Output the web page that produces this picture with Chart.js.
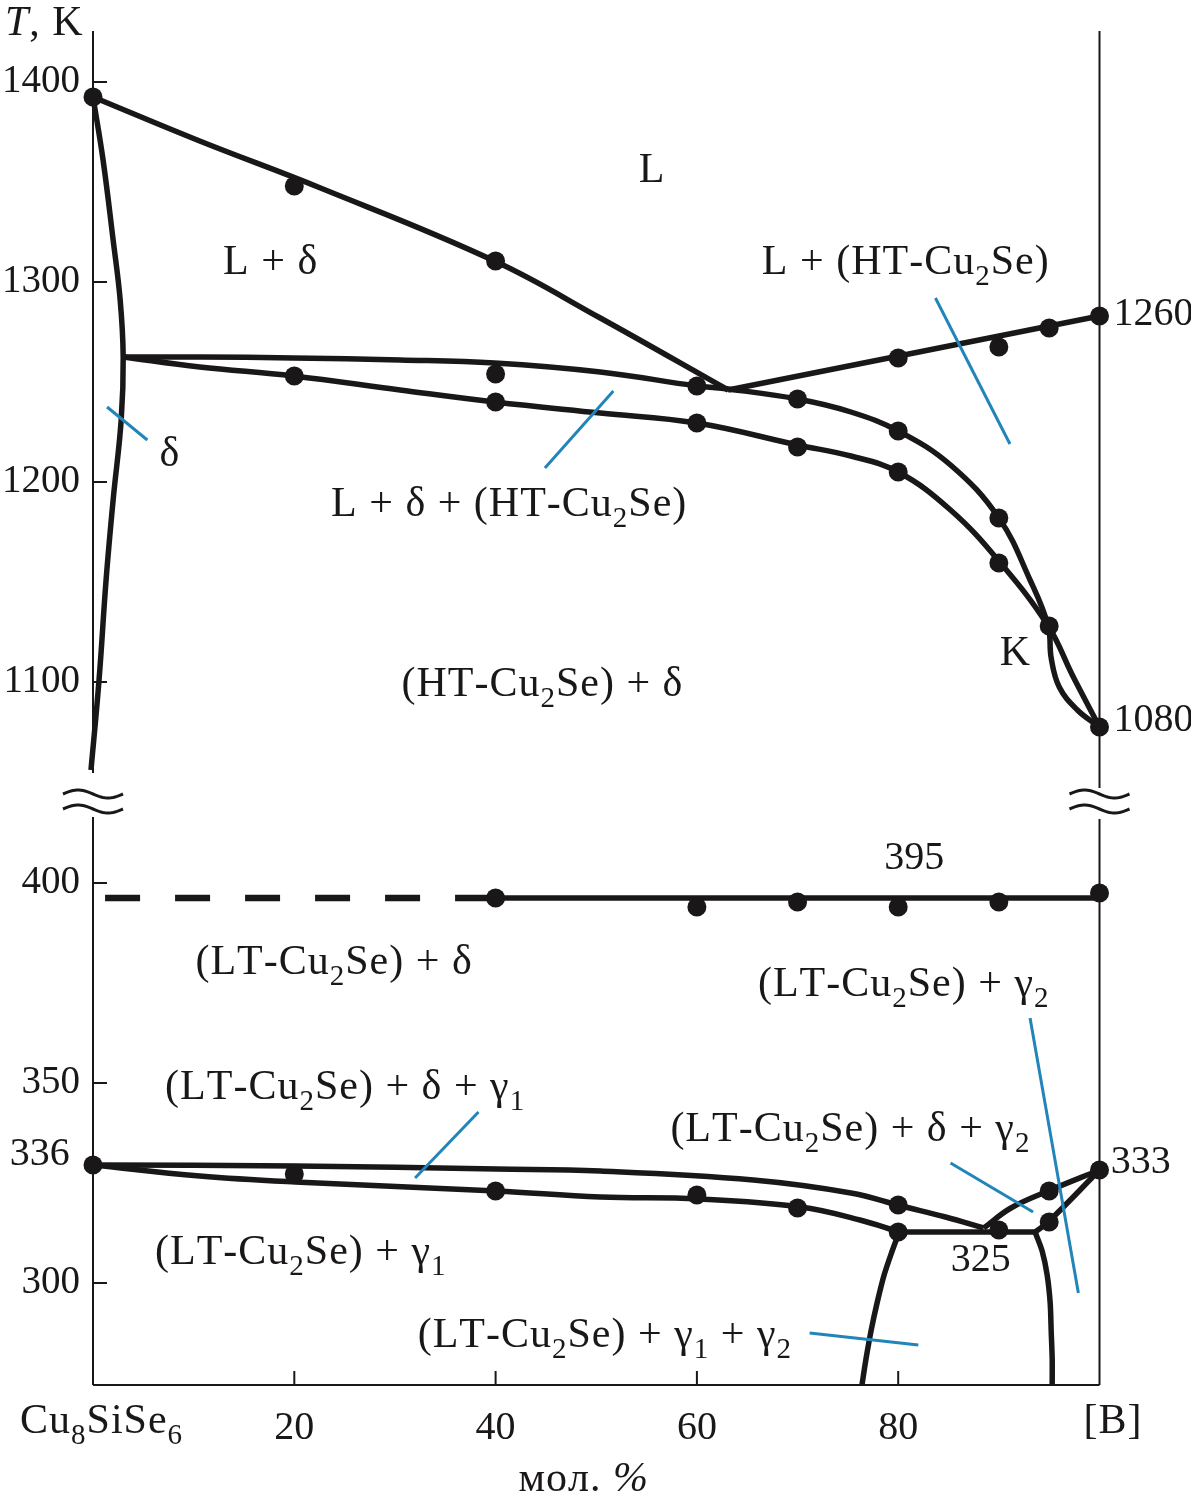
<!DOCTYPE html>
<html>
<head>
<meta charset="utf-8">
<script src="https://cdn.jsdelivr.net/npm/chart.js@4.4.0/dist/chart.umd.min.js"></script>
<style>
  html, body { margin: 0; padding: 0; background: #fff; }
</style>
</head>
<body>
<canvas id="chart" width="1191" height="1506"></canvas>
<script>
const FONT = '"Liberation Serif", "Times New Roman", serif';
const INK = "#1a1718";
const BLUE = "#2285ba";
const SIZE = 39;

// оси
const xTicks = [20, 40, 60, 80];
const topTicks = [1100, 1200, 1300, 1400];
const lowTicks = [300, 350, 400];
const topRange = [1041, 1425.5];
const lowRange = [274.5, 420.75];

// верхняя часть диаграммы: [мол. %, T]
const deltaBoundary = [[0, 1392.5], [1.0, 1361], [2.0, 1321], [2.7, 1291], [3.0, 1262.5], [2.8, 1231], [2.0, 1191], [1.3, 1151], [0.6, 1101], [-0.2, 1056]];
const liquidusLeft = [[0, 1392.5], [10.6, 1370.5], [22.6, 1347], [39.9, 1310.5], [50.4, 1282], [63.1, 1246]];
const liquidusRight = [[63.1, 1246], [100, 1283]];
const upperCurve = [[3.0, 1262.5], [10.6, 1262.5], [19.9, 1262], [30.5, 1261], [39.9, 1259.5], [50.4, 1255], [60.0, 1248], [63.1, 1246.5], [70.0, 1241.5], [75.3, 1235], [80.0, 1225.5], [85.2, 1208.5], [90.0, 1182], [93.1, 1151], [94.9, 1128], [95.2, 1112], [96.0, 1097.5], [97.8, 1086], [100, 1077.5]];
const lowerCurve = [[3.0, 1262.5], [10.6, 1257.5], [19.9, 1253], [30.5, 1246], [39.9, 1240], [50.4, 1234.5], [60.0, 1229.5], [70.0, 1218.5], [75.3, 1213], [80.0, 1205], [85.2, 1186], [90.0, 1160.5], [94.9, 1128], [97.3, 1103.5], [100, 1077.5]];
const topPoints = [[0, 1392.5], [20, 1348], [40, 1310.5], [20, 1253], [40, 1254], [40, 1240], [60, 1248], [60, 1229.5], [70, 1241.5], [70, 1217.5], [80, 1262], [80, 1225.5], [80, 1205], [90, 1267.5], [90, 1182], [90, 1159.5], [95, 1277], [95, 1128], [100, 1283], [100, 1077.5]];

// нижняя часть диаграммы
const line395Dashed = [[1.2, 396.25], [40, 396.25]];
const line395 = [[40, 396.25], [100, 396.25]];
const points395 = [[40, 396.25], [60, 394], [70, 395.25], [80, 394], [90, 395.25], [100, 397.5]];
const gamma1Upper = [[0, 329.5], [20.1, 329.25], [40.1, 328.5], [50.4, 328], [65.6, 325.75], [75.3, 322.5], [80.3, 319.25], [84.7, 316.5], [88.5, 313.75]];
const gamma1Lower = [[0, 329.5], [10.6, 326.75], [20.1, 325.25], [40.1, 323], [50.4, 321.5], [60.2, 321], [70.3, 319], [76.2, 315.75], [80.1, 312.75]];
const line325 = [[80.1, 312.75], [93.6, 312.75]];
const gamma2Upper = [[88.5, 313.75], [91.2, 318.75], [94.9, 323], [100, 328.25]];
const gamma2Lower = [[93.6, 312.75], [94.9, 315.25], [100, 328.25]];
const solvusLeft = [[80.1, 312.75], [79.4, 308], [78.6, 302], [77.9, 295], [77.3, 288], [76.8, 281], [76.4, 274.5]];
const solvusRight = [[93.6, 312.75], [94.3, 308], [94.8, 302], [95.1, 295], [95.2, 288], [95.3, 281], [95.3, 274.5]];
const lowPoints = [[0, 329.5], [20, 327.25], [40, 323], [60, 322], [70, 318.75], [80, 319.5], [80, 312.75], [90, 313.25], [95, 323], [95, 315.25], [100, 328.25]];

// выноски (синие линии)
const leadersTop = [[[1.4, 1237.5], [5.4, 1221]], [[44.9, 1207], [51.7, 1245.5]], [[83.7, 1292], [91.1, 1219]]];
const leadersLow = [[[32.0, 326.25], [38.3, 342.75]], [[93.1, 366.25], [97.9, 297.5]], [[85.2, 330], [93.4, 317.75]], [[71.2, 287.5], [82.0, 284.5]]];

// подписи областей: текст, x, T (центр). "_2" = нижний индекс
const topLabels = [
  ["L", 55.5, 1357],
  ["L + δ", 17.6, 1311],
  ["L + (HT-Cu_2Se)", 80.7, 1311],
  ["δ", 7.6, 1215],
  ["L + δ + (HT-Cu_2Se)", 41.3, 1190],
  ["K", 91.6, 1115.5],
  ["(HT-Cu_2Se) + δ", 44.6, 1100],
];
const lowLabels = [
  ["(LT-Cu_2Se) + δ", 23.9, 380.75],
  ["(LT-Cu_2Se) + γ_2", 80.5, 375.25],
  ["(LT-Cu_2Se) + δ + γ_1", 25.0, 349.5],
  ["(LT-Cu_2Se) + δ + γ_2", 75.2, 339],
  ["(LT-Cu_2Se) + γ_1", 20.6, 308.25],
  ["(LT-Cu_2Se) + γ_1 + γ_2", 50.8, 287.5],
];
// числовые подписи: текст, x, T (центр), выравнивание
const topValues = [["1260", 101.4, 1285, "left"], ["1080", 101.4, 1082, "left"]];
const lowValues = [["395", 81.6, 406.75, "center"], ["336", -5.3, 332.75, "center"], ["333", 104.1, 330.75, "center"], ["325", 88.2, 306.25, "center"]];

function toXY(arr) {
  return arr.map((p) => ({ x: p[0], y: p[1] }));
}

function curve(arr, axis, extra) {
  return Object.assign(
    {
      data: toXY(arr),
      yAxisID: axis,
      showLine: true,
      borderColor: INK,
      borderWidth: 5.5,
      pointRadius: 0,
      tension: 0.4,
      clip: false,
    },
    extra || {}
  );
}

function dots(arr, axis) {
  return {
    data: toXY(arr),
    yAxisID: axis,
    showLine: false,
    pointRadius: 9.5,
    pointBackgroundColor: INK,
    pointBorderWidth: 0,
    clip: false,
  };
}

const datasets = [];
// выноски рисуются поверх
for (let l of leadersTop) datasets.push(curve(l, "yTop", { borderColor: BLUE, borderWidth: 3, tension: 0 }));
for (let l of leadersLow) datasets.push(curve(l, "yLow", { borderColor: BLUE, borderWidth: 3, tension: 0 }));
datasets.push(dots(topPoints, "yTop"));
datasets.push(dots(points395, "yLow"));
datasets.push(dots(lowPoints, "yLow"));
datasets.push(curve(deltaBoundary, "yTop"));
datasets.push(curve(liquidusLeft, "yTop"));
datasets.push(curve(liquidusRight, "yTop", { tension: 0 }));
datasets.push(curve(upperCurve, "yTop"));
datasets.push(curve(lowerCurve, "yTop"));
datasets.push(curve(line395Dashed, "yLow", { borderDash: [35, 35], borderWidth: 6.5, tension: 0 }));
datasets.push(curve(line395, "yLow", { tension: 0 }));
datasets.push(curve(gamma1Upper, "yLow"));
datasets.push(curve(gamma1Lower, "yLow"));
datasets.push(curve(line325, "yLow", { tension: 0 }));
datasets.push(curve(gamma2Upper, "yLow"));
datasets.push(curve(gamma2Lower, "yLow"));
datasets.push(curve(solvusLeft, "yLow", { tension: 0.3 }));
datasets.push(curve(solvusRight, "yLow", { tension: 0.3 }));

// текст с нижними индексами и курсивом (*...*)
function richParts(str) {
  const parts = [];
  let italic = false;
  for (let i = 0; i < str.length; i++) {
    const c = str[i];
    if (c === "*") {
      italic = !italic;
      continue;
    }
    if (c === "_") {
      parts.push({ t: str[i + 1], sub: true, italic });
      i++;
      continue;
    }
    const last = parts[parts.length - 1];
    if (last && !last.sub && last.italic === italic) last.t += c;
    else parts.push({ t: c, sub: false, italic });
  }
  return parts;
}

function drawRich(ctx, str, x, baseline, align, size, spacing) {
  const parts = richParts(str);
  const subSize = Math.round(size * 0.7);
  const fontOf = (p) => (p.italic ? "italic " : "") + (p.sub ? subSize : size) + "px " + FONT;
  let w = 0;
  for (let p of parts) {
    ctx.font = fontOf(p);
    p.w = 0;
    for (let ch of p.t) p.w += ctx.measureText(ch).width + spacing;
    w += p.w;
  }
  w -= spacing;
  let cx = align === "left" ? x : align === "right" ? x - w : x - w / 2;
  ctx.textAlign = "left";
  ctx.textBaseline = "alphabetic";
  for (let p of parts) {
    ctx.font = fontOf(p);
    for (let ch of p.t) {
      ctx.fillText(ch, cx, p.sub ? baseline + size * 0.25 : baseline);
      cx += ctx.measureText(ch).width + spacing;
    }
  }
}

function seg(ctx, x1, y1, x2, y2) {
  ctx.beginPath();
  ctx.moveTo(x1, y1);
  ctx.lineTo(x2, y2);
  ctx.stroke();
}

// знак разрыва оси
function wave(ctx, x, y) {
  ctx.beginPath();
  for (let i = 0; i <= 30; i++) {
    const t = i / 30;
    const px = x - 30 + 60 * t;
    const py = y - 4 * Math.sin(2 * Math.PI * t);
    if (i === 0) ctx.moveTo(px, py);
    else ctx.lineTo(px, py);
  }
  ctx.stroke();
}

const axesPlugin = {
  id: "axesPlugin",
  beforeDatasetsDraw(chart) {
    const ctx = chart.ctx;
    const xs = chart.scales.x;
    const yt = chart.scales.yTop;
    const yl = chart.scales.yLow;
    const x0 = xs.getPixelForValue(0);
    const x1 = xs.getPixelForValue(100);
    const brk = yt.bottom;
    ctx.save();
    ctx.strokeStyle = INK;
    ctx.lineWidth = 2;
    seg(ctx, x0, yt.top, x0, brk - 27);
    seg(ctx, x0, brk + 17, x0, yl.bottom);
    seg(ctx, x1, yt.top, x1, brk - 12);
    seg(ctx, x1, brk + 19, x1, yl.bottom);
    seg(ctx, x0, yl.bottom, x1, yl.bottom);
    for (let v of topTicks) {
      const y = yt.getPixelForValue(v);
      seg(ctx, x0, y, x0 + 14, y);
    }
    for (let v of lowTicks) {
      const y = yl.getPixelForValue(v);
      seg(ctx, x0, y, x0 + 14, y);
    }
    for (let v of xTicks) {
      const x = xs.getPixelForValue(v);
      seg(ctx, x, yl.bottom, x, yl.bottom - 14);
    }
    ctx.lineWidth = 3;
    for (let x of [x0, x1]) {
      wave(ctx, x, brk - 6);
      wave(ctx, x, brk + 9);
    }
    ctx.restore();
  },
  afterDraw(chart) {
    const ctx = chart.ctx;
    const xs = chart.scales.x;
    const yt = chart.scales.yTop;
    const yl = chart.scales.yLow;
    ctx.save();
    ctx.fillStyle = INK;
    for (let [t, x, y] of topLabels) drawRich(ctx, t, xs.getPixelForValue(x), yt.getPixelForValue(y) + 14, "center", 42, 1);
    for (let [t, x, y] of lowLabels) drawRich(ctx, t, xs.getPixelForValue(x), yl.getPixelForValue(y) + 14, "center", 42, 1);
    for (let [t, x, y, a] of topValues) drawRich(ctx, t, xs.getPixelForValue(x), yt.getPixelForValue(y) + 13, a, 40, 0);
    for (let [t, x, y, a] of lowValues) drawRich(ctx, t, xs.getPixelForValue(x), yl.getPixelForValue(y) + 13, a, 40, 0);
    drawRich(ctx, "*T*, K", 5, yt.top + 4, "left", 42, 1);
    drawRich(ctx, "Cu_8SiSe_6", xs.getPixelForValue(0.8), xs.top + 48, "center", 42, 1);
    drawRich(ctx, "[B]", xs.getPixelForValue(101.3), xs.top + 48, "center", 42, 1);
    drawRich(ctx, "мол. *%*", xs.getPixelForValue(48.7), xs.top + 106, "center", 42, 1);
    ctx.restore();
  },
};

function fixY(width) {
  return (s) => {
    s.width = width;
    s.paddingTop = 0;
    s.paddingBottom = 0;
  };
}

const tickFont = { family: FONT, size: SIZE };
const plainNumber = (v) => String(v);

new Chart(document.getElementById("chart"), {
  type: "scatter",
  data: { datasets: datasets },
  options: {
    responsive: false,
    animation: false,
    devicePixelRatio: 1,
    layout: { padding: { top: 31, right: 91.5, left: 0, bottom: 0 } },
    plugins: { legend: { display: false }, tooltip: { enabled: false } },
    scales: {
      x: {
        type: "linear",
        min: 0,
        max: 100,
        grid: { display: false },
        border: { display: false },
        ticks: { font: { family: FONT, size: 40 }, color: INK, padding: 11, autoSkip: false, maxRotation: 0, callback: plainNumber },
        afterBuildTicks: (s) => {
          s.ticks = xTicks.map((v) => ({ value: v }));
        },
        afterFit: (s) => {
          s.height = 121;
          s.paddingLeft = 0;
          s.paddingRight = 0;
        },
      },
      yLow: {
        type: "linear",
        position: "left",
        stack: "T",
        stackWeight: 585,
        min: lowRange[0],
        max: lowRange[1],
        grid: { display: false },
        border: { display: false },
        ticks: { font: tickFont, color: INK, padding: 5, callback: plainNumber },
        afterBuildTicks: (s) => {
          s.ticks = lowTicks.map((v) => ({ value: v }));
        },
        afterFit: fixY(93),
      },
      yTop: {
        type: "linear",
        position: "left",
        stack: "T",
        stackWeight: 769,
        min: topRange[0],
        max: topRange[1],
        grid: { display: false },
        border: { display: false },
        ticks: { font: tickFont, color: INK, padding: 5, callback: plainNumber },
        afterBuildTicks: (s) => {
          s.ticks = topTicks.map((v) => ({ value: v }));
        },
        afterFit: fixY(93),
      },
    },
  },
  plugins: [axesPlugin],
});
</script>
</body>
</html>
